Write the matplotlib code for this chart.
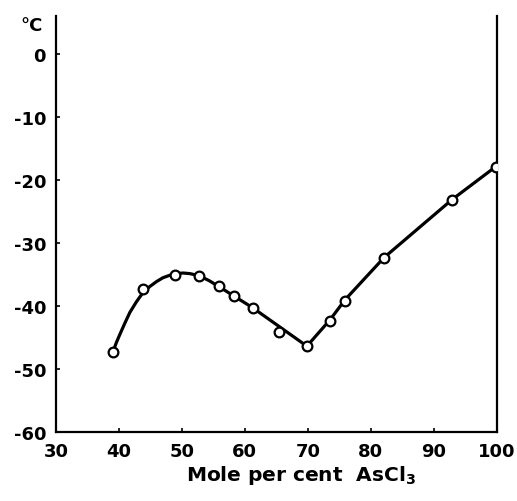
import matplotlib.pyplot as plt

plt.rcParams['font.family'] = 'DejaVu Sans'
plt.rcParams['font.weight'] = 'bold'
plt.rcParams['mathtext.default'] = 'bf'
plt.rcParams['axes.unicode_minus'] = False

# measured points (mole % AsCl3, temperature in C)
mole = [39.0, 43.8, 48.9, 52.7, 55.9, 58.3, 61.3, 65.4, 69.8, 73.5, 75.9, 82.1, 92.9, 99.8]
temp = [-47.3, -37.3, -35.1, -35.2, -36.8, -38.4, -40.3, -44.1, -46.3, -42.4, -39.2, -32.4, -23.2, -17.9]

# hand-drawn curve
curve_x = [39.05, 39.6, 40.2, 41.0, 41.75, 42.8, 43.8, 44.9, 46.0, 47.0, 48.1, 49.1, 50.2, 51.3, 52.4,
           53.4, 54.4, 55.7, 57.0, 58.25, 59.8, 61.3, 69.85,
           73.5, 75.9, 82.1, 92.9, 99.8]
curve_y = [-47.3, -45.8, -44.4, -42.6, -41.0, -39.3, -37.9, -36.9, -36.1, -35.5, -35.1, -34.85, -34.75,
           -34.85, -35.1, -35.5, -36.0, -36.8, -37.6, -38.4, -39.35, -40.3, -46.35,
           -42.2, -39.0, -32.3, -23.1, -17.9]

xticks = [30, 40, 50, 60, 70, 80, 90, 100]
yticks = [0, -10, -20, -30, -40, -50, -60]

fig = plt.figure(figsize=(5.17, 5.02), dpi=100)
ax = fig.add_axes([0.108, 0.137, 0.853, 0.829])

ax.plot(curve_x, curve_y, color='black', lw=2.3, solid_capstyle='round', solid_joinstyle='round', zorder=2)
ax.plot(mole, temp, 'o', ms=7, mfc='white', mec='black', mew=1.6, zorder=3)

ax.set_xlim(30, 100)
ax.set_ylim(-60, 6)
ax.set_xticks(xticks)
ax.set_yticks(yticks)
ax.tick_params(direction='in', length=3, width=1.2, labelsize=13, pad=7)
for lab in ax.get_xticklabels() + ax.get_yticklabels():
    lab.set_fontweight('bold')

ax.spines['top'].set_visible(False)
for s in ['left', 'right', 'bottom']:
    ax.spines[s].set_linewidth(1.6)

ax.text(-0.03, 4.6, '°C', transform=ax.get_yaxis_transform(), ha='right', va='center',
        fontsize=13, fontweight='bold')
ax.set_xlabel('Mole per cent  AsCl$_3$', fontsize=14.5, fontweight='bold')
ax.xaxis.set_label_coords(0.555, -0.075)

fig.savefig('out.png', dpi=100)
